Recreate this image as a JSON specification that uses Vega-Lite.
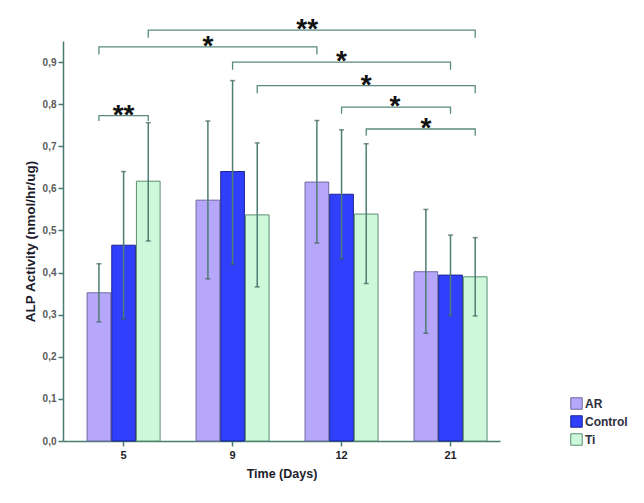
{
  "$schema": "https://vega.github.io/schema/vega-lite/v6.json",
  "width": 437,
  "height": 400,
  "autosize": "none",
  "padding": {"left": 63, "top": 41, "right": 144, "bottom": 62},
  "background": "white",
  "config": {
    "view": {"stroke": null},
    "font": "Liberation Sans",
    "legend": {
      "orient": "none", "legendX": 507, "legendY": 356,
      "symbolType": "square", "symbolSize": 132, "symbolStrokeWidth": 1,
      "labelFontSize": 12, "labelFontWeight": "bold", "labelColor": "#2e2e3e",
      "rowPadding": 1, "labelOffset": 2
    }
  },
  "datasets": {
    "bars": [
      {"day": "5", "group": "AR", "mean": 0.352, "lo": 0.283, "hi": 0.421},
      {"day": "5", "group": "Control", "mean": 0.465, "lo": 0.290, "hi": 0.640},
      {"day": "5", "group": "Ti", "mean": 0.617, "lo": 0.475, "hi": 0.756},
      {"day": "9", "group": "AR", "mean": 0.572, "lo": 0.385, "hi": 0.760},
      {"day": "9", "group": "Control", "mean": 0.640, "lo": 0.420, "hi": 0.856},
      {"day": "9", "group": "Ti", "mean": 0.537, "lo": 0.366, "hi": 0.708},
      {"day": "12", "group": "AR", "mean": 0.615, "lo": 0.470, "hi": 0.761},
      {"day": "12", "group": "Control", "mean": 0.586, "lo": 0.433, "hi": 0.739},
      {"day": "12", "group": "Ti", "mean": 0.539, "lo": 0.374, "hi": 0.706},
      {"day": "21", "group": "AR", "mean": 0.402, "lo": 0.256, "hi": 0.550},
      {"day": "21", "group": "Control", "mean": 0.394, "lo": 0.298, "hi": 0.489},
      {"day": "21", "group": "Ti", "mean": 0.390, "lo": 0.297, "hi": 0.483}
    ],
    "brackets": [
      {"id": 1, "k": 1, "day": "5", "group": "Ti", "y": 0.958},
      {"id": 1, "k": 2, "day": "5", "group": "Ti", "y": 0.976},
      {"id": 1, "k": 3, "day": "21", "group": "Ti", "y": 0.976},
      {"id": 1, "k": 4, "day": "21", "group": "Ti", "y": 0.958},
      {"id": 2, "k": 1, "day": "5", "group": "AR", "y": 0.918},
      {"id": 2, "k": 2, "day": "5", "group": "AR", "y": 0.936},
      {"id": 2, "k": 3, "day": "12", "group": "AR", "y": 0.936},
      {"id": 2, "k": 4, "day": "12", "group": "AR", "y": 0.918},
      {"id": 3, "k": 1, "day": "9", "group": "Control", "y": 0.882},
      {"id": 3, "k": 2, "day": "9", "group": "Control", "y": 0.900},
      {"id": 3, "k": 3, "day": "21", "group": "Control", "y": 0.900},
      {"id": 3, "k": 4, "day": "21", "group": "Control", "y": 0.882},
      {"id": 4, "k": 1, "day": "9", "group": "Ti", "y": 0.826},
      {"id": 4, "k": 2, "day": "9", "group": "Ti", "y": 0.844},
      {"id": 4, "k": 3, "day": "21", "group": "Ti", "y": 0.844},
      {"id": 4, "k": 4, "day": "21", "group": "Ti", "y": 0.826},
      {"id": 5, "k": 1, "day": "12", "group": "Control", "y": 0.777},
      {"id": 5, "k": 2, "day": "12", "group": "Control", "y": 0.793},
      {"id": 5, "k": 3, "day": "21", "group": "Control", "y": 0.793},
      {"id": 5, "k": 4, "day": "21", "group": "Control", "y": 0.777},
      {"id": 6, "k": 1, "day": "12", "group": "Ti", "y": 0.725},
      {"id": 6, "k": 2, "day": "12", "group": "Ti", "y": 0.741},
      {"id": 6, "k": 3, "day": "21", "group": "Ti", "y": 0.741},
      {"id": 6, "k": 4, "day": "21", "group": "Ti", "y": 0.725},
      {"id": 7, "k": 1, "day": "5", "group": "AR", "y": 0.760},
      {"id": 7, "k": 2, "day": "5", "group": "AR", "y": 0.773},
      {"id": 7, "k": 3, "day": "5", "group": "Ti", "y": 0.773},
      {"id": 7, "k": 4, "day": "5", "group": "Ti", "y": 0.760}
    ],
    "stars": [
      {"day": "9", "group": "AR", "y": 0.936, "label": "*"},
      {"day": "12", "group": "Control", "y": 0.900, "label": "*"},
      {"day": "12", "group": "Ti", "y": 0.844, "label": "*"},
      {"day": "21", "group": "AR", "y": 0.741, "label": "*"},
      {"day": "5", "group": "Control", "y": 0.773, "label": "**"}
    ],
    "starsA": [
      {"day": "12", "y": 0.976, "label": "**"}
    ],
    "starsB": [
      {"day": "12", "y": 0.793, "label": "*"}
    ]
  },
  "layer": [
    {
      "data": {"name": "bars"},
      "mark": {"type": "bar", "strokeWidth": 1},
      "encoding": {
        "x": {
          "field": "day", "type": "nominal", "sort": ["5", "9", "12", "21"],
          "scale": {"paddingInner": 0.33, "paddingOuter": 0.17, "align": 0.65},
          "axis": {
            "title": "Time (Days)", "labelAngle": 0, "labelFontSize": 11, "labelFontWeight": "bold",
            "labelColor": "#1e1e28", "labelPadding": 3, "tickSize": 5, "tickWidth": 1.5, "tickColor": "#4a7b72",
            "domainColor": "#4a7b72", "domainWidth": 1.5, "titleFontSize": 12.5, "titleFontWeight": "bold",
            "titleColor": "#1c1c2c", "titlePadding": 7
          }
        },
        "xOffset": {"field": "group", "type": "nominal", "sort": ["AR", "Control", "Ti"], "scale": {"paddingInner": 0.04}},
        "y": {
          "field": "mean", "type": "quantitative",
          "scale": {"domain": [0, 0.95], "nice": false},
          "axis": {
            "title": "ALP Activity (nmol/hr/ug)", "values": [0, 0.1, 0.2, 0.3, 0.4, 0.5, 0.6, 0.7, 0.8, 0.9],
            "labelExpr": "replace(format(datum.value, '.1f'), '.', ',')", "grid": false,
            "labelFontSize": 10, "labelFontWeight": "bold", "labelColor": "#5a5a5a", "labelPadding": 2,
            "tickSize": 5, "tickWidth": 1.5, "tickColor": "#4a7b72", "domainColor": "#4a7b72", "domainWidth": 1.5,
            "titleFontSize": 13.5, "titleFontWeight": "bold", "titleColor": "#1c1c2c", "titlePadding": 5
          }
        },
        "fill": {
          "field": "group", "type": "nominal",
          "scale": {"domain": ["AR", "Control", "Ti"], "range": ["#b6a7fa", "#2f3ffc", "#cdf9da"]},
          "legend": {"title": null}
        },
        "stroke": {
          "field": "group", "type": "nominal",
          "scale": {"domain": ["AR", "Control", "Ti"], "range": ["#6e6a9e", "#1b2590", "#5b8e72"]},
          "legend": {"title": null}
        }
      }
    },
    {
      "data": {"name": "bars"},
      "mark": {"type": "rule", "color": "#4e7d73", "strokeWidth": 1.5},
      "encoding": {
        "x": {"field": "day", "type": "nominal", "sort": ["5", "9", "12", "21"]},
        "xOffset": {"field": "group", "type": "nominal", "sort": ["AR", "Control", "Ti"]},
        "y": {"field": "lo", "type": "quantitative"},
        "y2": {"field": "hi"}
      }
    },
    {
      "data": {"name": "bars"},
      "mark": {"type": "tick", "color": "#3d5f58", "size": 5, "thickness": 1.5},
      "encoding": {
        "x": {"field": "day", "type": "nominal", "sort": ["5", "9", "12", "21"]},
        "xOffset": {"field": "group", "type": "nominal", "sort": ["AR", "Control", "Ti"]},
        "y": {"field": "lo", "type": "quantitative"}
      }
    },
    {
      "data": {"name": "bars"},
      "mark": {"type": "tick", "color": "#3d5f58", "size": 5, "thickness": 1.5},
      "encoding": {
        "x": {"field": "day", "type": "nominal", "sort": ["5", "9", "12", "21"]},
        "xOffset": {"field": "group", "type": "nominal", "sort": ["AR", "Control", "Ti"]},
        "y": {"field": "hi", "type": "quantitative"}
      }
    },
    {
      "data": {"name": "brackets"},
      "mark": {"type": "line", "color": "#5a8a80", "strokeWidth": 1.3},
      "encoding": {
        "x": {"field": "day", "type": "nominal", "sort": ["5", "9", "12", "21"]},
        "xOffset": {"field": "group", "type": "nominal", "sort": ["AR", "Control", "Ti"]},
        "y": {"field": "y", "type": "quantitative"},
        "detail": {"field": "id"},
        "order": {"field": "k"}
      }
    },
    {
      "data": {"name": "stars"},
      "mark": {"type": "text", "fontSize": 28, "fontWeight": "bold", "color": "#111", "baseline": "alphabetic", "dy": 8},
      "encoding": {
        "x": {"field": "day", "type": "nominal", "sort": ["5", "9", "12", "21"]},
        "xOffset": {"field": "group", "type": "nominal", "sort": ["AR", "Control", "Ti"]},
        "y": {"field": "y", "type": "quantitative"},
        "text": {"field": "label"}
      }
    },
    {
      "data": {"name": "starsA"},
      "mark": {"type": "text", "fontSize": 28, "fontWeight": "bold", "color": "#111", "baseline": "alphabetic", "dy": 8},
      "encoding": {
        "x": {"field": "day", "type": "nominal", "sort": ["5", "9", "12", "21"], "bandPosition": 0.03},
        "y": {"field": "y", "type": "quantitative"},
        "text": {"field": "label"}
      }
    },
    {
      "data": {"name": "starsB"},
      "mark": {"type": "text", "fontSize": 28, "fontWeight": "bold", "color": "#111", "baseline": "alphabetic", "dy": 8},
      "encoding": {
        "x": {"field": "day", "type": "nominal", "sort": ["5", "9", "12", "21"], "bandPosition": 1.23},
        "y": {"field": "y", "type": "quantitative"},
        "text": {"field": "label"}
      }
    }
  ]
}
